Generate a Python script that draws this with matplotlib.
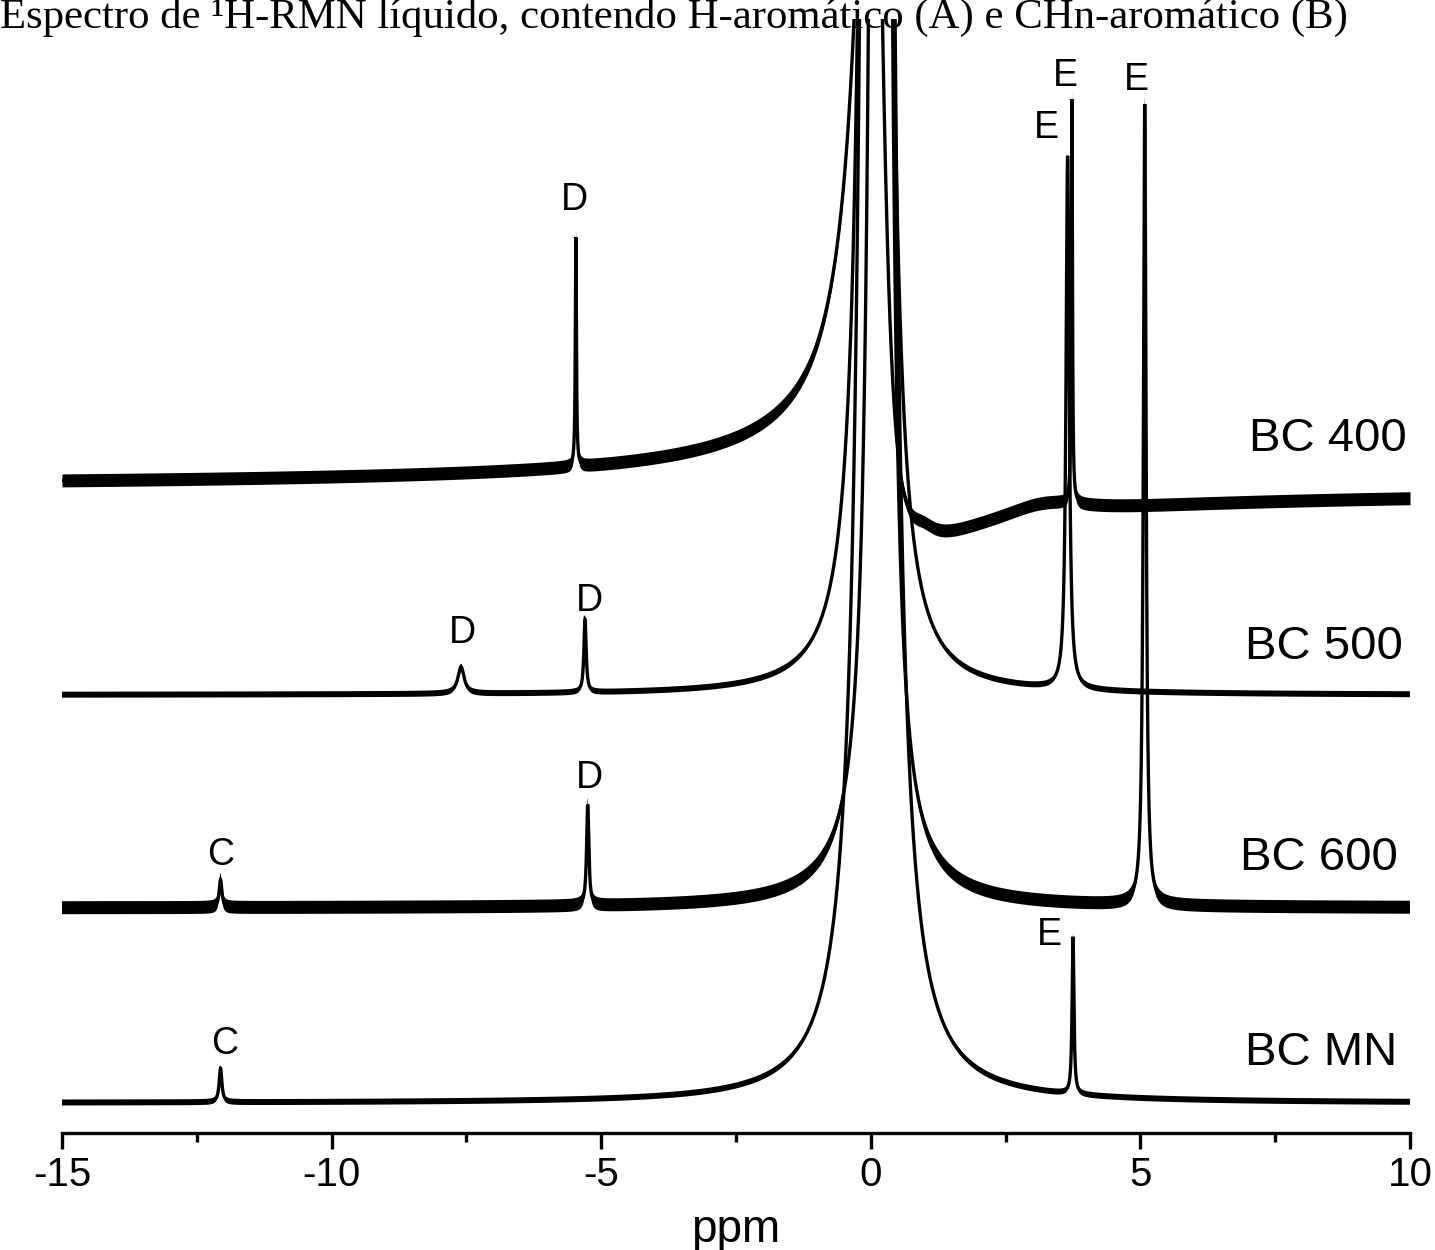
import numpy as np
import matplotlib
matplotlib.use("Agg")
import matplotlib.pyplot as plt
from matplotlib.ticker import MultipleLocator

# ---------------- data ----------------
title = "Espectro de \u00b9H-RMN l\u00edquido, contendo H-arom\u00e1tico (A) e CHn-arom\u00e1tico (B)"
series_names = ["BC 400", "BC 500", "BC 600", "BC MN"]

# peak components of every spectrum: centre (ppm), height, half width (ppm),
# dispersive fraction of the line (phase error)
bc400_center = [0.07, -5.47, 3.73, 0.95, 3.2]
bc400_height = [880, 229, 404, 15, 14]
bc400_hwhm = [0.25, 0.012, 0.012, 0.3, 0.9]
bc400_disp = [0.5, 0.0, 0.0, 0.0, 0.0]

bc500_center = [0.09, -7.60, -5.30, 3.65]
bc500_height = [48750, 27, 73, 533]
bc500_hwhm = [0.04, 0.07, 0.025, 0.035]
bc500_disp = [0.0, 0.0, 0.0, 0.0]

bc600_center = [0.18, 0.15, -12.06, -5.25, 5.08]
bc600_height = [28000, 28, 28, 101, 801]
bc600_hwhm = [0.04, 1.0, 0.03, 0.025, 0.03]
bc600_disp = [0.0, 0.0, 0.0, 0.0, 0.0]

bcmn_center = [0.12, -12.06, 3.75]
bcmn_height = [75000, 34, 157]
bcmn_hwhm = [0.04, 0.03, 0.02]
bcmn_disp = [0.0, 0.0, 0.0]

# peak letters: text, ppm, intensity level
peak_label_text = ["D", "E", "E", "E", "D", "D", "C", "D", "E", "C"]
peak_label_ppm = [-5.49, 3.60, 3.26, 4.93, -7.57, -5.21, -12.05, -5.21, 3.32, -11.98]
peak_label_level = [933, 1057, 1005, 1053, 500, 532, 278, 355, 198, 89]

x_ticks_major = [-15, -10, -5, 0, 5, 10]
x_label = "ppm"

# ---------------- layout / style ----------------
offsets = [645, 438, 225, 30]          # vertical stacking of the spectra
noise_half = [6.5, 3.0, 6.5, 3.0]       # thickness of the noisy trace
name_pos_ppm = [9.94, 9.87, 9.77, 9.76]
name_pos_level = [694, 486, 275, 80]

plt.rcParams["axes.unicode_minus"] = False
sans = ["Liberation Sans", "DejaVu Sans"]

W, H = 1435, 1250
fig = plt.figure(figsize=(W / 100, H / 100), dpi=100)
ax = fig.add_axes([62 / W, (H - 1133) / H, 1348 / W, 1114 / H])

ppm = np.linspace(-15.0, 10.0, 40001)


def spectrum(centers, heights, widths, disps):
    y = np.zeros_like(ppm)
    for c, h, g, m in zip(centers, heights, widths, disps):
        d = ppm - c
        y += h * g * (g - m * d) / (d * d + g * g)
    return y


components = [
    (bc400_center, bc400_height, bc400_hwhm, bc400_disp),
    (bc500_center, bc500_height, bc500_hwhm, bc500_disp),
    (bc600_center, bc600_height, bc600_hwhm, bc600_disp),
    (bcmn_center, bcmn_height, bcmn_hwhm, bcmn_disp),
]

for comp, off, nh in zip(components, offsets, noise_half):
    y = spectrum(*comp) + off
    ax.fill_between(ppm, y - nh, y + nh, color="black", lw=0)
    ax.plot(ppm, y, color="black", lw=2.4, solid_joinstyle="miter")

for name, px, lv in zip(series_names, name_pos_ppm, name_pos_level):
    ax.text(px, lv, name, ha="right", va="center", fontsize=34, family=sans)

for t, px, lv in zip(peak_label_text, peak_label_ppm, peak_label_level):
    ax.text(px, lv, t, ha="center", va="center", fontsize=27, family=sans)

ax.set_xlim(-15, 10)
ax.set_ylim(0, 1114)
ax.set_yticks([])
for s in ["left", "right", "top"]:
    ax.spines[s].set_visible(False)
ax.spines["bottom"].set_linewidth(2.4)
ax.set_xticks(x_ticks_major)
ax.set_xticklabels([str(v) for v in x_ticks_major], family=sans)
ax.xaxis.set_minor_locator(MultipleLocator(2.5))
ax.tick_params(axis="x", which="major", length=11.5, width=2.4,
               direction="out", labelsize=29, pad=5)
ax.tick_params(axis="x", which="minor", length=6.5, width=2.4, direction="out")
ax.set_xlabel(x_label, fontsize=33, family=sans, labelpad=10)

fig.text(0.0, 1 - 28 / H, title, ha="left", va="baseline",
         fontsize=30.8, family=["Liberation Serif", "DejaVu Serif"])

fig.savefig("out.png", dpi=100)
